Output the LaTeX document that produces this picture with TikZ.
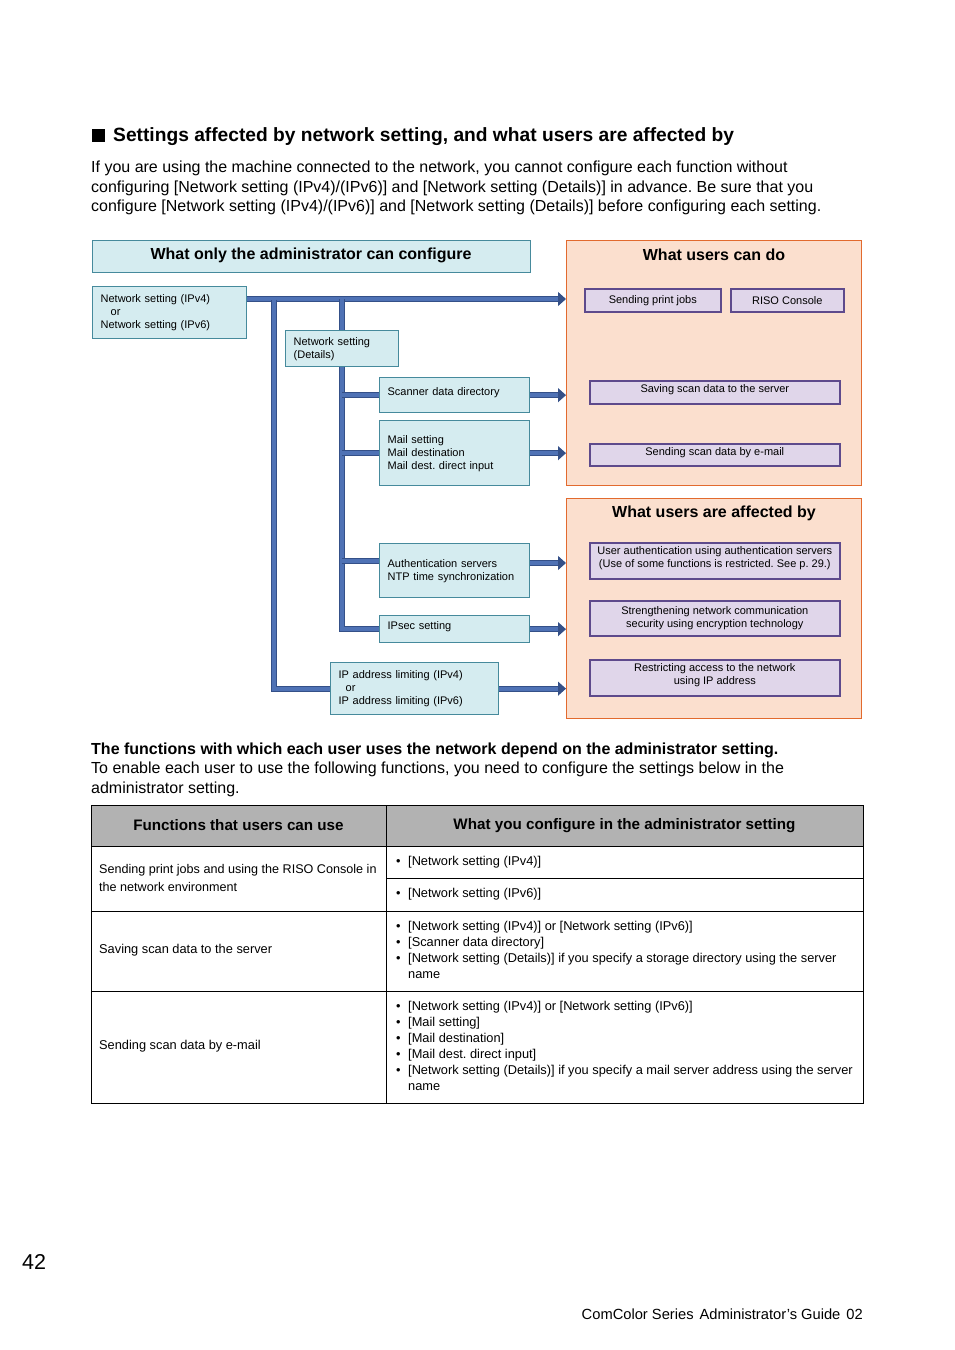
\documentclass[tikz,border=0pt]{standalone}
\usepackage{fontspec}
\setmainfont{Liberation Sans}
\usetikzlibrary{arrows.meta, positioning}
\frenchspacing

\definecolor{cyanfill}{RGB}{213,236,240}
\definecolor{cyanedge}{RGB}{70,138,156}
\definecolor{peach}{RGB}{251,223,206}
\definecolor{peachedge}{RGB}{226,106,46}
\definecolor{purpfill}{RGB}{224,214,234}
\definecolor{purpedge}{RGB}{94,74,140}
\definecolor{pipefill}{RGB}{79,114,181}
\definecolor{pipeedge}{RGB}{52,80,136}
\definecolor{headgray}{RGB}{178,178,178}

\newcommand\dfont{\fontsize{11}{13}\selectfont}
\newcommand\tfont{\fontsize{12.8}{16}\selectfont}
\newcommand\tbul{\makebox[12pt][l]{\textbullet}}

\begin{document}
\begin{tikzpicture}[x=1pt, y=-1pt,
    every node/.style={inner sep=0pt},
    cbox/.style={draw=cyanedge, fill=cyanfill, line width=1.3pt, anchor=north west,
      align=left, inner xsep=8pt, font=\dfont},
    pbox/.style={draw=purpedge, fill=purpfill, line width=1.6pt, anchor=north west,
      align=center, font=\dfont},
    raised/.style={text depth=7pt},
    panel/.style={draw=peachedge, fill=peach, line width=1.4pt, anchor=north west},
    title/.style={font=\fontsize{16}{19}\selectfont\bfseries},
    pipe/.style={draw=pipeedge, line width=1pt, double=pipefill, double distance=3.8pt},
    pipearrow/.style={pipe, -{Triangle[length=8pt, width=14pt]}},
    para/.style={anchor=base west, font=\fontsize{16}{19}\selectfont},
    cell/.style={anchor=west, align=left, font=\tfont}]
  \useasboundingbox (0,0) rectangle (954,1350);

  % Heading and text
  \fill (92,129) rectangle (105,142);
  \node[para, font=\fontsize{19.2}{22}\selectfont\bfseries] (head) at (113,141.5)
    {Settings affected by network setting, and what users are affected by};
  \node[para] (p1) at (91,172.5) {If you are using the machine connected to the network, you cannot configure each function without};
  \node[para] (p2) at (91,192) {configuring [Network setting (IPv4)/(IPv6)] and [Network setting (Details)] in advance. Be sure that you};
  \node[para] (p3) at (91,211.5) {configure [Network setting (IPv4)/(IPv6)] and [Network setting (Details)] before configuring each setting.};

  % Panels
  \node[cbox, minimum width=438, minimum height=32, inner xsep=0pt, align=center] (adm) at (92,240) {};
  \node[title] (admT) at (311,255) {What only the administrator can configure};
  \node[panel, minimum width=295, minimum height=245] (cando) at (566,240) {};
  \node[title] (candoT) at (714,255) {What users can do};
  \node[panel, minimum width=295, minimum height=220] (affect) at (566,498) {};
  \node[title] (affectT) at (714,513) {What users are affected by};

  % Administrator settings
  \node[cbox, text width=138, minimum height=52] (nw) at (92,286)
    {Network setting (IPv4)\\\hspace*{10pt}or\\Network setting (IPv6)};
  \node[cbox, text width=97, minimum height=36] (det) at (285,330)
    {Network setting\\(Details)};
  \node[cbox, raised, text width=134, minimum height=35] (scan) at (379,377)
    {Scanner data directory};
  \node[cbox, text width=134, minimum height=65] (mail) at (379,420)
    {Mail setting\\Mail destination\\Mail dest. direct input};
  \node[cbox, text width=134, minimum height=54] (auth) at (379,543)
    {Authentication servers\\NTP time synchronization};
  \node[cbox, raised, text width=134, minimum height=27] (ipsec) at (379,615)
    {IPsec setting};
  \node[cbox, text width=152, minimum height=52] (iplim) at (330,662)
    {IP address limiting (IPv4)\\\hspace*{7pt}or\\IP address limiting (IPv6)};

  % User side
  \node[pbox, minimum width=136, minimum height=23] (print) at (584,288) {Sending print jobs};
  \node[pbox, minimum width=113, minimum height=23] (riso) at (730,288) {RISO Console};
  \node[pbox, raised, minimum width=250, minimum height=23] (save) at (589,380) {Saving scan data to the server};
  \node[pbox, raised, minimum width=250, minimum height=22] (email) at (589,443) {Sending scan data by e-mail};
  \node[pbox, raised, minimum width=250, minimum height=36] (uauth) at (589,542)
    {User authentication using authentication servers\\(Use of some functions is restricted. See p. 29.)};
  \node[pbox, minimum width=250, minimum height=35] (secure) at (589,600)
    {Strengthening network communication\\security using encryption technology};
  \node[pbox, raised, minimum width=250, minimum height=36] (restrict) at (589,659)
    {Restricting access to the network\\using IP address};

  % Pipes
  \coordinate (busR) at (566,299);
  \draw[pipearrow] (nw.east |- busR) -- (busR);
  \draw[pipe] (nw.east -| 274,0) ++(0,-13) coordinate (j1) |- (iplim.west);
  \draw[pipe] (det.north) -- (det.north |- busR);
  \draw[pipe] (det.south) |- (ipsec.west);
  \draw[pipe] (det.south |- scan.west) -- (scan.west);
  \draw[pipe] (det.south |- mail.west) -- (mail.west);
  \draw[pipe] ([yshift=-18pt]auth.north west -| det.south) -- ([yshift=-18pt]auth.north west);
  \draw[pipearrow] (scan.east) -- (scan.east -| busR);
  \draw[pipearrow] (mail.east) -- (mail.east -| busR);
  \draw[pipearrow] ([yshift=-20pt]auth.north east) -- ([yshift=-20pt]auth.north east -| busR);
  \draw[pipearrow] (ipsec.east) -- (ipsec.east -| busR);
  \draw[pipearrow] (iplim.east) -- (iplim.east -| busR);

  % Text between
  \node[para, font=\fontsize{16}{19}\selectfont\bfseries] (p4) at (91,754.5)
    {The functions with which each user uses the network depend on the administrator setting.};
  \node[para] (p5) at (91,773.5) {To enable each user to use the following functions, you need to configure the settings below in the};
  \node[para] (p6) at (91,793) {administrator setting.};

  % Table
  \fill[headgray] (91,805) rectangle (863,846);
  \draw[line width=1pt] (91,805) rectangle (863,1103);
  \draw[line width=1pt] (91,846) -- (863,846) (91,911) -- (863,911) (91,991) -- (863,991)
    (386,805) -- (386,1103) (386,878) -- (863,878);
  \node[font=\fontsize{15.2}{18}\selectfont\bfseries] (th1) at (238.5,825.5) {Functions that users can use};
  \node[font=\fontsize{15.2}{18}\selectfont\bfseries] (th2) at (624.5,825.5) {What you configure in the administrator setting};
  \node[cell, font=\fontsize{12.6}{18}\selectfont] (c11) at (99,877.5)
    {Sending print jobs and using the RISO Console in\\the network environment};
  \node[cell] (c12) at (396,862) {\tbul[Network setting (IPv4)]};
  \node[cell] (c13) at (396,894) {\tbul[Network setting (IPv6)]};
  \node[cell] (c21) at (99,950) {Saving scan data to the server};
  \node[cell] (c22) at (396,950)
    {\tbul[Network setting (IPv4)] or [Network setting (IPv6)]\\
     \tbul[Scanner data directory]\\
     \tbul[Network setting (Details)] if you specify a storage directory using the server\\
     \hspace*{12pt}name};
  \node[cell] (c31) at (99,1046) {Sending scan data by e-mail};
  \node[cell] (c32) at (396,1046)
    {\tbul[Network setting (IPv4)] or [Network setting (IPv6)]\\
     \tbul[Mail setting]\\
     \tbul[Mail destination]\\
     \tbul[Mail dest. direct input]\\
     \tbul[Network setting (Details)] if you specify a mail server address using the server\\
     \hspace*{12pt}name};

  % Footer
  \node[para, font=\fontsize{21.5}{24}\selectfont] (pg) at (22,1269.5) {42};
  \node[anchor=base east, font=\fontsize{14.7}{17}\selectfont] (foot) at (863,1319)
    {ComColor Series\hspace{6pt}Administrator's Guide\hspace{6pt}02};
\end{tikzpicture}
\end{document}
